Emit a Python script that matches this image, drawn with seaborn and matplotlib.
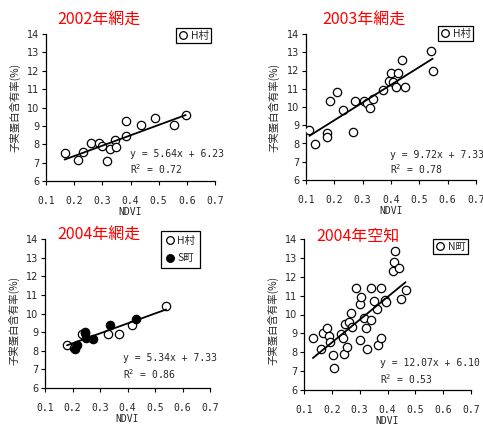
import numpy as np
import pandas as pd
import matplotlib
matplotlib.use("Agg")
import matplotlib.pyplot as plt
import seaborn as sns
from matplotlib.lines import Line2D

sns.set_style("ticks")
plt.rcParams['font.family'] = ['Noto Sans CJK JP', 'DejaVu Sans']
plt.rcParams['mathtext.fontset'] = 'dejavusans'

W, H = 483, 428

# ---------------- data ----------------
titles = ["2002年網走", "2003年網走", "2004年網走", "2004年空知"]
ylabel = "子実蛋白含有率(%)"
xlabel = "NDVI"

p1_ndvi = [0.166, 0.212, 0.230, 0.261, 0.289, 0.300, 0.317, 0.328, 0.344, 0.350,
           0.384, 0.385, 0.438, 0.488, 0.556, 0.596]
p1_prot = [7.52, 7.15, 7.58, 8.07, 8.06, 7.90, 7.10, 7.74, 8.24, 7.83,
           9.27, 8.44, 9.03, 9.43, 9.05, 9.58]

p2_ndvi = [0.112, 0.133, 0.173, 0.173, 0.185, 0.211, 0.232, 0.267, 0.274, 0.306,
           0.314, 0.325, 0.335, 0.371, 0.392, 0.400, 0.408, 0.418, 0.424, 0.440,
           0.449, 0.542, 0.547]
p2_prot = [8.73, 7.99, 8.56, 8.34, 10.33, 10.81, 9.84, 8.63, 10.33, 10.33,
           10.20, 9.93, 10.42, 10.93, 11.43, 11.84, 11.35, 11.10, 11.84, 12.55,
           11.11, 13.05, 12.00]

p3h_ndvi = [0.180, 0.205, 0.235, 0.245, 0.330, 0.370, 0.415, 0.540]
p3h_prot = [8.32, 8.15, 8.92, 8.95, 8.92, 8.92, 9.38, 10.42]
p3s_ndvi = [0.210, 0.215, 0.247, 0.250, 0.275, 0.335, 0.432]
p3s_prot = [8.12, 8.33, 9.00, 8.70, 8.65, 9.38, 9.73]

p4_ndvi = [0.132, 0.161, 0.167, 0.182, 0.191, 0.193, 0.203, 0.209, 0.232, 0.239,
           0.244, 0.248, 0.256, 0.262, 0.270, 0.274, 0.287, 0.301, 0.304, 0.302,
           0.316, 0.322, 0.328, 0.339, 0.339, 0.351, 0.363, 0.366, 0.376, 0.377,
           0.392, 0.395, 0.418, 0.423, 0.428, 0.440, 0.449, 0.465]
p4_prot = [8.74, 8.16, 9.00, 9.26, 8.87, 8.55, 7.88, 7.19, 8.96, 8.74,
           7.89, 9.49, 8.28, 9.58, 10.07, 9.36, 11.40, 10.58, 10.94, 8.65,
           9.84, 9.31, 8.16, 9.70, 11.40, 10.69, 10.28, 8.37, 8.78, 11.40,
           10.76, 10.64, 12.28, 12.80, 13.38, 12.46, 10.80, 11.29]

slopes = [5.64, 9.72, 5.34, 12.07]
intercepts = [6.23, 7.33, 7.33, 6.10]
r2 = ["0.72", "0.78", "0.86", "0.53"]
legend_labels = [["H村"], ["H村"], ["H村", "S町"], ["N町"]]

xticks = [0.1, 0.2, 0.3, 0.4, 0.5, 0.6, 0.7]
yticks = [6, 7, 8, 9, 10, 11, 12, 13, 14]

# ---------------- layout (pixels) ----------------
axes_px = [(46, 215, 34, 181), (306, 476, 34, 180), (45, 210, 239, 388), (304, 471, 239, 390)]
title_px = [(99, 20), (364, 20), (99, 235), (358, 236)]
ylab_px = [(15, 107), (274, 107), (14, 320), (273, 320)]
eq_px = [(130, 154), (390, 155), (123, 358), (380, 363)]
r2_px = [(130, 169), (390, 169), (123, 374), (380, 379)]
leg_px = [(211, 28), (473, 26), (200, 231), (468, 239)]
leg_spacing = [0.35, 0.35, 0.75, 0.35]
leg_pad = [0.25, 0.25, 0.45, 0.25]

def fx(x):
    return x / W

def fy(y):
    return 1 - y / H

fig = plt.figure(figsize=(W / 100, H / 100), dpi=100)

datasets = [
    [(p1_ndvi, p1_prot, "white")],
    [(p2_ndvi, p2_prot, "white")],
    [(p3h_ndvi, p3h_prot, "white"), (p3s_ndvi, p3s_prot, "black")],
    [(p4_ndvi, p4_prot, "white")],
]

for i in range(4):
    l, r, t, b = axes_px[i]
    ax = fig.add_axes([fx(l), fy(b), (r - l) / W, (b - t) / H])
    allx = []
    for xs, ys, fc in datasets[i]:
        df = pd.DataFrame({"x": xs, "y": ys})
        sns.scatterplot(data=df, x="x", y="y", ax=ax, s=36, facecolor=fc,
                        edgecolor="black", linewidth=0.9, zorder=3, legend=False)
        allx += list(xs)
    xl = np.array([min(allx), max(allx)])
    ldf = pd.DataFrame({"x": xl, "y": slopes[i] * xl + intercepts[i]})
    sns.lineplot(data=ldf, x="x", y="y", ax=ax, color="black", linewidth=1.3, zorder=4)

    ax.set_xlim(0.1, 0.7)
    ax.set_ylim(6, 14)
    ax.set_xticks(xticks)
    ax.set_yticks(yticks)
    ax.set_xticklabels([f"{v:.1f}" for v in xticks], family="DejaVu Sans Mono", fontsize=7)
    ax.set_yticklabels([str(v) for v in yticks], family="DejaVu Sans", fontsize=7)
    ax.tick_params(axis="both", length=3, width=0.8, pad=2, color="black")
    ax.tick_params(axis="x", pad=8)
    ax.set_xlabel("")
    ax.set_ylabel("")
    for s in ["top", "right"]:
        ax.spines[s].set_visible(False)
    for s in ["left", "bottom"]:
        ax.spines[s].set_linewidth(0.9)
        ax.spines[s].set_color("black")
    ax.patch.set_alpha(0)

    # titles and labels
    fig.text(fx(title_px[i][0]), fy(title_px[i][1]), titles[i], color="red",
             fontsize=11.5, ha="center", va="center")
    fig.text(fx(ylab_px[i][0]), fy(ylab_px[i][1]), ylabel, rotation=90,
             fontsize=7.5, ha="center", va="center")
    fig.text(fx((l + r) / 2), fy(b + 31), xlabel, family="DejaVu Sans Mono",
             fontsize=7, ha="center", va="center")
    fig.text(fx(eq_px[i][0]), fy(eq_px[i][1]),
             f"y = {slopes[i]:.2f}x + {intercepts[i]:.2f}",
             family="DejaVu Sans Mono", fontsize=7, ha="left", va="center")
    fig.text(fx(r2_px[i][0]), fy(r2_px[i][1]), "R$^2$ = " + r2[i],
             family="DejaVu Sans Mono", fontsize=7, ha="left", va="center")

    # legend
    handles = []
    for (xs, ys, fc), lab in zip(datasets[i], legend_labels[i]):
        handles.append(Line2D([], [], marker="o", linestyle="none", markersize=5.5,
                              markerfacecolor=fc, markeredgecolor="black",
                              markeredgewidth=0.9, label=lab))
    leg = ax.legend(handles=handles, loc="upper right",
                    bbox_to_anchor=(fx(leg_px[i][0]), fy(leg_px[i][1])),
                    bbox_transform=fig.transFigure, frameon=True, fancybox=False,
                    edgecolor="black", fontsize=7.5, handlelength=0.8,
                    handletextpad=0.3, borderpad=leg_pad[i], borderaxespad=0,
                    labelspacing=leg_spacing[i], framealpha=1)
    leg.get_frame().set_linewidth(0.9)

fig.savefig("out.png", dpi=100)
